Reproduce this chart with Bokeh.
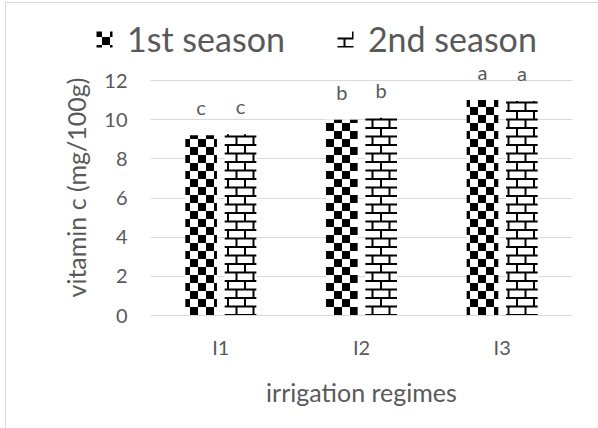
import base64
from bokeh.plotting import figure
from bokeh.layouts import column
from bokeh.models import (ColumnDataSource, FactorRange, FixedTicker, Legend, LegendItem,
                          ImageURLTexture)
from bokeh.transform import dodge
from bokeh.core.properties import value
from bokeh.embed import file_html
from bokeh.resources import INLINE

# ---- data ----
categories = ["I1", "I2", "I3"]
season1 = [9.2, 10.0, 11.0]
season2 = [9.25, 10.1, 10.95]
letters1 = ["c", "b", "a"]
letters2 = ["c", "b", "a"]
series_names = ["1st season", "2nd season"]
y_ticks = [0, 2, 4, 6, 8, 10, 12]

src = ColumnDataSource(dict(cat=categories, s1=season1, s2=season2, l1=letters1, l2=letters2))

FONT = "Lato"
GREY = "#595959"
GRID = "#d9d9d9"

svg_chk = ("<svg xmlns='http://www.w3.org/2000/svg' width='16' height='16'>"
           "<rect width='16' height='16' fill='white'/>"
           "<rect width='8' height='8' fill='black'/><rect x='8' y='8' width='8' height='8' fill='black'/></svg>")
svg_brick = ("<svg xmlns='http://www.w3.org/2000/svg' width='17' height='17'>"
             "<rect width='17' height='17' fill='white'/>"
             "<path d='M0 1H17M0 9.5H17M1 0V9.5M9.5 9.5V17' stroke='black' stroke-width='2' fill='none'/></svg>")


def texture(svg):
    return ImageURLTexture(url="data:image/svg+xml;base64," + base64.b64encode(svg.encode()).decode())


extra = {"checker": texture(svg_chk), "brick": texture(svg_brick)}
style1 = dict(fill_color="white", line_color=None, hatch_pattern=value("checker"),
              hatch_extra=extra, hatch_color="black")
style2 = dict(fill_color="white", line_color=None, hatch_pattern=value("brick"),
              hatch_extra=extra, hatch_color="black")

W = 592
TOP_H = 56
MAIN_H = 369
BOTTOM = 113
FRAME_H = MAIN_H - BOTTOM          # frame extends above the 12 gridline so labels are not clipped
GRID_H = 235                        # pixel height from 0 to 12
y_end = max(y_ticks) * FRAME_H / GRID_H

# ---- main chart ----
p = figure(x_range=FactorRange(factors=categories), y_range=(0, y_end),
           width=W, height=MAIN_H, output_backend="svg", toolbar_location=None,
           min_border_left=144, min_border_right=26, min_border_top=0, min_border_bottom=BOTTOM)
p.frame_align = False
p.outline_line_color = None
p.background_fill_color = "white"
p.border_fill_color = "white"

off = 0.14
bw = 0.225
r1 = p.vbar(x=dodge("cat", -off, range=p.x_range), top="s1", width=bw, source=src, **style1)
r2 = p.vbar(x=dodge("cat", off, range=p.x_range), top="s2", width=bw, source=src, **style2)

p.text(x=dodge("cat", -off, range=p.x_range), y="s1", text="l1", source=src,
       text_font=value(FONT), text_font_size="20px", text_color=GREY,
       text_align="center", text_baseline="middle", y_offset=-28)
p.text(x=dodge("cat", off, range=p.x_range), y="s2", text="l2", source=src,
       text_font=value(FONT), text_font_size="20px", text_color=GREY,
       text_align="center", text_baseline="middle", y_offset=-28)

p.yaxis.ticker = FixedTicker(ticks=y_ticks)
p.yaxis.axis_line_color = None
p.yaxis.major_tick_line_color = None
p.yaxis.minor_tick_line_color = None
p.yaxis.major_label_standoff = 17
p.yaxis.axis_label = "vitamin c (mg/100g)"
p.yaxis.axis_label_standoff = 10

p.xaxis.axis_line_color = GRID
p.xaxis.major_tick_line_color = None
p.xaxis.minor_tick_line_color = None
p.xaxis.major_label_standoff = 13
p.xaxis.axis_label = "irrigation regimes"
p.xaxis.axis_label_standoff = 15

for ax in (p.xaxis[0], p.yaxis[0]):
    ax.major_label_text_font = FONT
    ax.major_label_text_font_size = "20px"
    ax.major_label_text_color = GREY
    ax.axis_label_text_font = FONT
    ax.axis_label_text_font_size = "25px"
    ax.axis_label_text_font_style = "normal"
    ax.axis_label_text_color = GREY

p.xgrid.grid_line_color = None
p.ygrid.grid_line_color = GRID
p.ygrid.grid_line_width = 1

# ---- legend strip (separate figure so the legend is not clipped) ----
lg = figure(width=W, height=TOP_H, x_range=(0, W), y_range=(0, TOP_H),
            x_axis_type=None, y_axis_type=None, output_backend="svg", toolbar_location=None,
            min_border=0)
lg.frame_align = False
lg.outline_line_color = None
lg.background_fill_color = "white"
lg.border_fill_color = "white"
# zero-size proxies that only carry the legend glyph styling
d1 = lg.vbar(x="s1", top="s1", bottom="s1", width=0, source=src, **style1)
d2 = lg.vbar(x="s2", top="s2", bottom="s2", width=0, source=src, **style2)

legend = Legend(items=[LegendItem(label=series_names[0], renderers=[d1]),
                       LegendItem(label=series_names[1], renderers=[d2])],
                orientation="horizontal", location=(88, 0),
                label_text_font=FONT, label_text_font_size="34px", label_text_color=GREY,
                label_text_baseline="alphabetic",
                glyph_width=20, glyph_height=20, label_standoff=13, spacing=50,
                padding=0, margin=0, border_line_color=None, background_fill_alpha=0)
lg.add_layout(legend, "center")

layout = column(lg, p, spacing=0,
                styles={"margin-left": "5px", "margin-top": "2px",
                        "border-left": "1px solid #d9d9d9", "border-top": "1px solid #d9d9d9"})

open("out.html", "w").write(file_html(layout, INLINE))
